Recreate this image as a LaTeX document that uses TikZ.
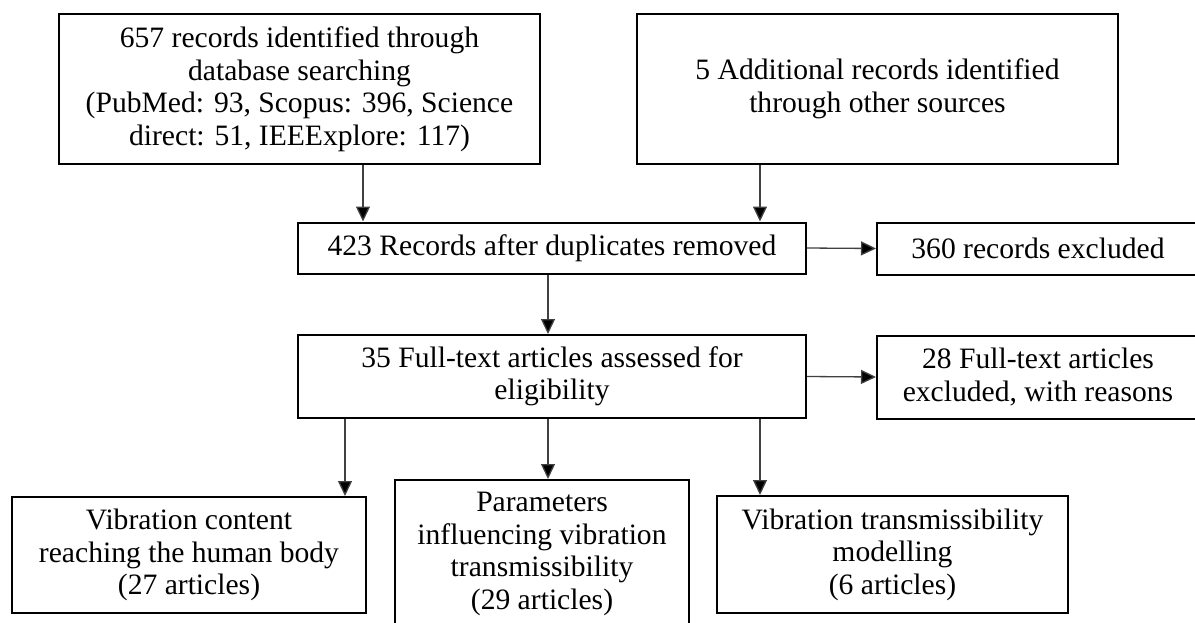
\documentclass[tikz,border=0pt]{standalone}
\usepackage{fontspec}
\setmainfont{Liberation Serif}
\usetikzlibrary{arrows.meta}
\tikzset{
  box/.style={draw=black, line width=1pt, inner sep=0pt, align=center, anchor=center,
    font=\fontsize{14.8}{16.25}\selectfont},
  arr/.style={draw=black!75, line width=0.65pt, -{Triangle[length=7.5pt,width=7pt,fill=black]}}
}
\begin{document}
\begin{tikzpicture}[x=0.5pt,y=-0.5pt]
\useasboundingbox (0,0) rectangle (1195,622);
\clip (0,0) rectangle (1195,622);
\node[box, minimum width=240.5pt, minimum height=75pt] (b1) at (299.5,89)
  {657 records identified through\\database searching\\(PubMed: 93, Scopus: 396, Science\\direct: 51, IEEExplore: 117)};
\node[box, minimum width=240.5pt, minimum height=75pt] (b2) at (877.5,89)
  {5 Additional records identified\\through other sources};
\node[box, minimum width=254pt, minimum height=25.5pt] (b3) at (552,248)
  {423 Records after duplicates removed};
\node[box, minimum width=161pt, minimum height=26pt] (b4) at (1038,248.5)
  {360 records excluded};
\node[box, minimum width=254pt, minimum height=41.5pt] (b5) at (552,376.5)
  {35 Full-text articles assessed for\\eligibility};
\node[box, minimum width=161pt, minimum height=41.5pt] (b6) at (1038,377)
  {28 Full-text articles\\excluded, with reasons};
\node[box, minimum width=177pt, minimum height=58pt] (b7) at (189,555)
  {Vibration content\\reaching the human body\\(27 articles)};
\node[box, minimum width=147pt, minimum height=74pt] (b8) at (542,554)
  {Parameters\\influencing vibration\\transmissibility\\(29 articles)};
\node[box, minimum width=175.5pt, minimum height=58.5pt] (b9) at (892.5,554.5)
  {Vibration transmissibility\\modelling\\(6 articles)};
\coordinate (xa) at (363,0);
\coordinate (xb) at (760,0);
\coordinate (xc) at (548,0);
\coordinate (xd) at (345,0);
\draw[arr] (b1.south -| xa) -- (b3.north -| xa);
\draw[arr] (b2.south -| xb) -- (b3.north -| xb);
\draw[arr] (b3.east) -- (b4.west);
\draw[arr] (b3.south -| xc) -- (b5.north -| xc);
\draw[arr] (b5.east) -- (b6.west);
\draw[arr] (b5.south -| xd) -- (b7.north -| xd);
\draw[arr] (b5.south -| xc) -- (b8.north -| xc);
\draw[arr] (b5.south -| xb) -- (b9.north -| xb);
\end{tikzpicture}
\end{document}
